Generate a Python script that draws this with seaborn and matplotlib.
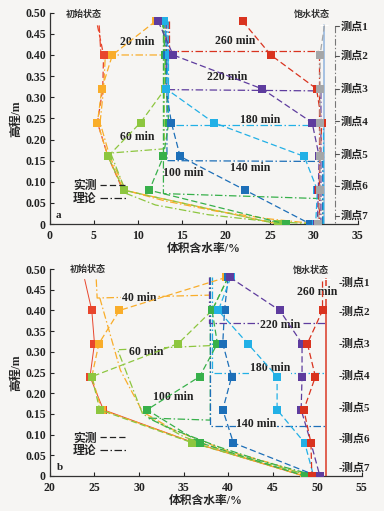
import matplotlib
matplotlib.use('Agg')
import matplotlib.pyplot as plt
import seaborn as sns

# measuring heights (m) for points 1..7
heights = [0.48, 0.40, 0.32, 0.24, 0.16, 0.08, 0.0]
top_heights = [0.47, 0.40, 0.32, 0.24, 0.16, 0.08, 0.0]
gauge_names = ['测点1', '测点2', '测点3', '测点4', '测点5', '测点6', '测点7']
gauge_y = [0.468, 0.398, 0.32, 0.243, 0.165, 0.09, 0.02]
time_labels = ['20 min', '60 min', '100 min', '140 min', '180 min', '220 min', '260 min']

# ---- panel a: measured water content (%) ----
a_init = [5.4, 6.1, 6.0, 5.4, 6.6, 8.3]
a_20 = [12.0, 7.1, 5.9, 5.4, 6.6, 8.4, 25.9]
a_60 = [12.8, 13.1, 13.1, 10.3, 6.6, 8.4, 25.9]
a_100 = [12.8, 13.1, 13.2, 13.5, 12.9, 11.3, 26.8]
a_140 = [13.0, 13.3, 13.2, 13.8, 14.8, 22.2, 29.6]
a_180 = [13.0, 13.5, 13.2, 18.6, 28.9, 30.4, 30.2]
a_220 = [12.3, 14.0, 24.1, 29.8, 30.6, 30.5, 30.4]
a_260 = [21.9, 25.1, 30.3, 30.9, 30.7, 30.6, 30.5]
a_sat = [31.2, 30.7, 30.7, 30.7, 30.7, 30.7, 30.5]

# ---- panel a: theory profiles ----
a_th_init_x = [5.6, 5.8]
a_th_init_y = [0.47, 0.40]
a_th20_x = [13.1, 13.1, 6.3, 6.1, 5.7, 6.8, 8.6, 13.0, 19.0, 25.0, 30.5]
a_th20_y = [0.48, 0.40, 0.40, 0.32, 0.24, 0.16, 0.08, 0.055, 0.03, 0.012, 0.0]
a_th60_x = [13.0, 13.0, 6.9, 8.7, 12.0, 18.0, 24.0, 30.0]
a_th60_y = [0.48, 0.178, 0.168, 0.072, 0.045, 0.022, 0.008, 0.0]
a_th100_x = [12.9, 12.9, 31.0, 31.0]
a_th100_y = [0.48, 0.072, 0.06, 0.0]
a_th140_x = [13.3, 13.3, 31.0, 31.0]
a_th140_y = [0.48, 0.15, 0.148, 0.0]
a_th180_x = [13.4, 13.4, 31.0, 31.0]
a_th180_y = [0.48, 0.235, 0.235, 0.0]
a_th220_x = [13.2, 13.2, 30.8, 30.8]
a_th220_y = [0.48, 0.318, 0.315, 0.0]
a_th260_x = [13.5, 13.5, 30.6, 30.6]
a_th260_y = [0.48, 0.41, 0.41, 0.0]
a_sat_line_x = [31.2, 31.2]
a_sat_line_y = [0.47, 0.0]
a_gauge_x = 32.4

# ---- panel b: measured water content (%) ----
b_init = [23.9, 24.7, 25.0, 24.5, 26.0, 36.2, 48.5]
b_40 = [39.8, 27.8, 25.5, 24.7, 25.8, 36.2, 48.5]
b_60 = [40.0, 38.2, 34.4, 24.7, 25.6, 36.0, 48.8]
b_100 = [40.0, 38.2, 38.8, 36.8, 30.9, 36.9, 48.6]
b_140 = [40.0, 39.6, 39.4, 40.4, 39.4, 40.6, 50.0]
b_180 = [40.3, 38.9, 42.2, 45.5, 45.5, 48.6, 49.6]
b_220 = [40.2, 45.8, 48.3, 48.3, 48.2, 49.3, 50.3]
b_260 = [50.6, 50.6, 48.9, 49.8, 48.5, 49.3, 49.4]

# ---- panel b: theory profiles ----
b_th40_x = [25.2, 25.3, 38.0]
b_th40_y = [0.475, 0.43, 0.437]
b_th40_low_x = [25.6, 27.9, 30.4, 34.0, 40.0, 45.0, 49.0]
b_th40_low_y = [0.43, 0.256, 0.155, 0.11, 0.06, 0.03, 0.0]
b_th60_x = [38.0, 27.6, 30.4, 35.0, 41.0, 46.0, 49.5]
b_th60_y = [0.315, 0.305, 0.15, 0.095, 0.05, 0.02, 0.0]
b_th100_x = [38.0, 38.0, 31.0, 33.5, 39.0, 44.0, 50.0]
b_th100_y = [0.48, 0.135, 0.14, 0.115, 0.07, 0.035, 0.0]
b_th140_x = [38.0, 38.0, 51.0]
b_th140_y = [0.48, 0.12, 0.12]
b_th180_x = [38.2, 38.2, 51.0]
b_th180_y = [0.48, 0.25, 0.25]
b_th220_x = [37.9, 37.9, 51.0]
b_th220_y = [0.48, 0.37, 0.37]
b_sat_line_x = [51.0, 51.0]
b_sat_line_y = [0.475, 0.0]

c_init = '#e8452c'
c20 = '#f9ad2a'
c60 = '#8dc63f'
c100 = '#37b04a'
c140 = '#1d6fb8'
c180 = '#22b0e6'
c220 = '#5e3c9e'
c260 = '#d9331f'
c_gray = '#a4a6a8'
c_satline = '#8fb3de'
bg = '#f6f5f3'

MEAS = (0, (5, 2.5))
THEO = (0, (6, 2, 1.2, 2))

sns.set_theme(style='ticks')
plt.rcParams['font.family'] = ['Liberation Serif', 'Noto Sans CJK SC']
plt.rcParams['font.weight'] = 'bold'
plt.rcParams['axes.unicode_minus'] = False


def meas(ax, xs, ys, color, every=None, lw=0.9, ls=MEAS):
    sns.lineplot(x=xs, y=ys, ax=ax, sort=False, estimator=None, color=color,
                 lw=lw, linestyle=ls, marker='s', markersize=5.8,
                 markeredgewidth=0, markevery=every, zorder=4)


def theo(ax, xs, ys, color, lw=0.9, ls=THEO):
    sns.lineplot(x=xs, y=ys, ax=ax, sort=False, estimator=None, color=color,
                 lw=lw, linestyle=ls, zorder=3)


def style_axes(ax, xlim, xticks):
    ax.set_facecolor(bg)
    ax.set_xlim(*xlim)
    ax.set_ylim(0, 0.5)
    ax.set_xticks(xticks)
    ax.set_yticks([0, 0.05, 0.1, 0.15, 0.2, 0.25, 0.3, 0.35, 0.4, 0.45, 0.5])
    ax.set_yticklabels(['0'] + [f'{v:.2f}' for v in
                                [0.05, 0.1, 0.15, 0.2, 0.25, 0.3, 0.35, 0.4, 0.45, 0.5]])
    ax.set_xticklabels([str(t) for t in xticks])
    for s in ['top', 'right']:
        ax.spines[s].set_visible(False)
    for s in ['left', 'bottom']:
        ax.spines[s].set_color('#333333')
        ax.spines[s].set_linewidth(0.9)
    ax.tick_params(direction='in', length=3, width=0.8, labelsize=8.5,
                   colors='#222222')
    ax.tick_params(axis='x', pad=4)
    ax.tick_params(axis='y', pad=3)
    ax.set_xlabel('体积含水率/%', fontsize=8.5, fontweight='bold', labelpad=1)
    ax.set_ylabel('高程/m', fontsize=8.5, fontweight='bold', labelpad=2)


fig = plt.figure(figsize=(3.84, 5.11), dpi=100, facecolor=bg)
ax_a = fig.add_axes([0.130, 0.5616, 0.802, 0.4135])
ax_b = fig.add_axes([0.130, 0.0685, 0.812, 0.405])

# ================= panel a =================
ax = ax_a
style_axes(ax, (0, 35), [0, 5, 10, 15, 20, 25, 30, 35])

theo(ax, a_th_init_x, a_th_init_y, c_init)
theo(ax, a_th20_x, a_th20_y, c20)
theo(ax, a_th60_x, a_th60_y, c60)
theo(ax, a_th100_x, a_th100_y, c100)
theo(ax, a_th140_x, a_th140_y, c140)
theo(ax, a_th180_x, a_th180_y, c180)
theo(ax, a_th220_x, a_th220_y, c220)
theo(ax, a_th260_x, a_th260_y, c260)
sns.lineplot(x=a_sat_line_x, y=a_sat_line_y, ax=ax, sort=False, estimator=None,
             color=c_satline, lw=1.1, marker='_', markersize=6, markevery=[0])

meas(ax, a_init, top_heights[:6], c_init, every=[1])
meas(ax, a_20, heights, c20)
meas(ax, a_60, heights, c60)
meas(ax, a_100, heights, c100)
meas(ax, a_140, heights, c140)
meas(ax, a_180, heights, c180)
meas(ax, a_220, heights, c220)
meas(ax, a_260, heights, c260)
meas(ax, a_sat, top_heights, c_gray, every=list(range(1, 7)))

# gauge column
ax.plot([a_gauge_x, a_gauge_x], [gauge_y[0], 0], color='#777777', lw=0.8,
        linestyle=THEO, zorder=2)
for name, gy in zip(gauge_names, gauge_y):
    ax.plot([a_gauge_x, a_gauge_x + 0.4], [gy, gy], color='#555555', lw=0.8)
    ax.text(a_gauge_x + 0.6, gy, name, fontsize=8, va='center', ha='left',
            color='#222222', clip_on=False)

ax.text(3.9, 0.495, '初始状态', fontsize=6.5, ha='center', va='center', color='#333333')
ax.text(29.8, 0.497, '饱水状态', fontsize=6.5, ha='center', va='center', color='#333333')
a_lab_x = [9.9, 9.9, 15.2, 22.8, 23.9, 20.1, 21.0]
a_lab_y = [0.431, 0.206, 0.12, 0.133, 0.246, 0.348, 0.434]
for lab, lx, ly in zip(time_labels, a_lab_x, a_lab_y):
    ax.text(lx, ly, lab, fontsize=8.5, ha='center', va='center', color='#222222',
            fontweight='bold')
ax.text(1.0, 0.02, 'a', fontsize=8, ha='center', va='center', color='#222222')

h_meas, = ax.plot([], [], color='#222222', lw=0.9, linestyle=MEAS)
h_theo, = ax.plot([], [], color='#222222', lw=0.9, linestyle=THEO)
leg = ax.legend([h_meas, h_theo], ['实测', '理论'], loc='lower left',
                bbox_to_anchor=(0.04, 0.04), frameon=False, markerfirst=False,
                handlelength=2.4, handletextpad=0.3, labelspacing=0.05,
                prop={'size': 8.5, 'weight': 'bold'})

# ================= panel b =================
ax = ax_b
style_axes(ax, (20, 55), [20, 25, 30, 35, 40, 45, 50, 55])

theo(ax, b_th40_x, b_th40_y, c20)
theo(ax, b_th40_low_x, b_th40_low_y, c20)
theo(ax, b_th60_x, b_th60_y, c60)
theo(ax, b_th100_x, b_th100_y, c100)
theo(ax, b_th140_x, b_th140_y, c140)
theo(ax, b_th180_x, b_th180_y, c180)
theo(ax, b_th220_x, b_th220_y, c220)
sns.lineplot(x=b_sat_line_x, y=b_sat_line_y, ax=ax, sort=False, estimator=None,
             color='#e06050', lw=1.4, marker='_', markersize=6, markevery=[0])

sns.lineplot(x=b_init, y=[0.475] + heights[1:], ax=ax, sort=False, estimator=None,
             color=c_init, lw=0.7, marker='s', markersize=5.8, markeredgewidth=0,
             markevery=[1, 2, 3, 4])
meas(ax, b_40, heights, c20)
meas(ax, b_60, heights, c60)
meas(ax, b_100, heights, c100)
meas(ax, b_140, heights, c140)
meas(ax, b_180, heights, c180)
meas(ax, b_220, heights, c220)
meas(ax, b_260, top_heights, c260, every=list(range(1, 7)))

b_gauge_x = 52.4
for name, gy in zip(gauge_names, gauge_y):
    ax.text(b_gauge_x, gy, '-' + name, fontsize=8, va='center', ha='left',
            color='#222222', clip_on=False)

ax.text(24.2, 0.498, '初始状态', fontsize=6.5, ha='center', va='center', color='#333333')
ax.text(49.3, 0.498, '饱水状态', fontsize=6.5, ha='center', va='center', color='#333333')
b_labels = ['40 min', '60 min', '100 min', '140 min', '180 min', '220 min', '260 min']
b_lab_x = [30.0, 30.8, 33.8, 43.2, 44.7, 45.9, 50.0]
b_lab_y = [0.43, 0.30, 0.19, 0.125, 0.26, 0.366, 0.444]
for lab, lx, ly in zip(b_labels, b_lab_x, b_lab_y):
    ax.text(lx, ly, lab, fontsize=8.5, ha='center', va='center', color='#222222',
            fontweight='bold', bbox=dict(facecolor=bg, edgecolor='none', pad=0.3))
ax.text(21.1, 0.02, 'b', fontsize=8, ha='center', va='center', color='#222222')

h_meas, = ax.plot([], [], color='#222222', lw=0.9, linestyle=MEAS)
h_theo, = ax.plot([], [], color='#222222', lw=0.9, linestyle=THEO)
ax.legend([h_meas, h_theo], ['实测', '理论'], loc='lower left',
          bbox_to_anchor=(0.04, 0.04), frameon=False, markerfirst=False,
          handlelength=2.4, handletextpad=0.3, labelspacing=0.05,
          prop={'size': 8.5, 'weight': 'bold'})

fig.savefig('out.png', dpi=100, facecolor=bg)
